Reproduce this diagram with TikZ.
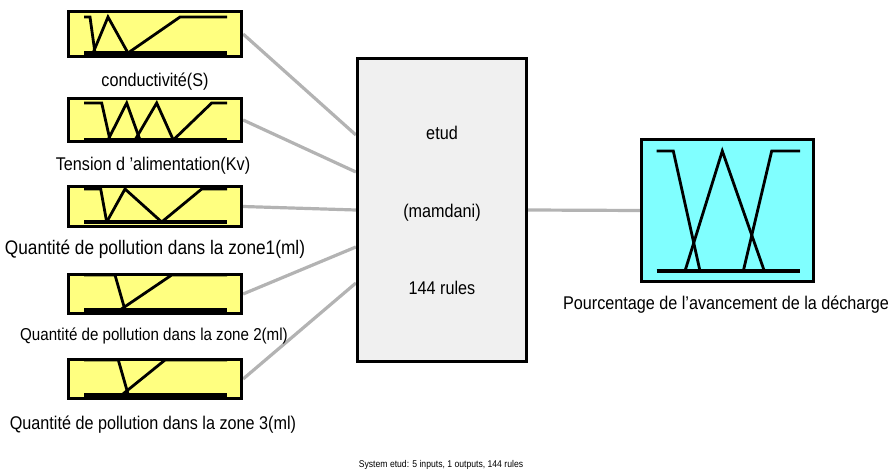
\documentclass[tikz,border=0pt]{standalone}
\usepackage{fontspec}
\setmainfont{Liberation Sans}[FakeStretch=0.88]
\usetikzlibrary{backgrounds}

\definecolor{inpfill}{HTML}{FFFF80}
\definecolor{outfill}{HTML}{80FFFF}
\definecolor{sysfill}{HTML}{F0F0F0}
\definecolor{linkgray}{HTML}{B3B3B3}

\begin{document}
\begin{tikzpicture}[x=1pt,y=-1pt,
  varbox/.style={draw=black, line width=3.2pt, inner sep=0pt},
  inbox/.style={varbox, fill=inpfill, minimum width=173pt},
  outbox/.style={varbox, fill=outfill, minimum width=172pt, minimum height=142pt},
  sysbox/.style={varbox, fill=sysfill, minimum width=169pt, minimum height=303pt},
  mf/.style={draw=black, line width=2.8pt},
  axisline/.style={draw=black, line width=3.6pt},
  link/.style={draw=linkgray, line width=3.2pt},
  lab/.style={inner sep=0pt, anchor=base, font=\fontsize{18.4}{22}\selectfont},
  small/.style={inner sep=0pt, anchor=base, font=\fontsize{9.8}{12}\selectfont}
]
\useasboundingbox (0,0) rectangle (889,470);

% input variable boxes
\node[inbox, minimum height=45pt] (in1) at (155,34) {};
\node[inbox, minimum height=43pt] (in2) at (155,120) {};
\node[inbox, minimum height=40pt] (in3) at (155,206.5) {};
\node[inbox, minimum height=39pt] (in4) at (155,294) {};
\node[inbox, minimum height=39pt] (in5) at (155,379) {};

% rule system and output variable
\node[sysbox] (sys) at (442,210) {};
\node[outbox] (out1) at (727.5,210.5) {};

% membership functions: conductivité
\draw[axisline] (84,53) -- (227,53);
\draw[mf] (84,17) -- (90,17) -- (95,53);
\draw[mf] (93,53) -- (108,17) -- (128,53);
\draw[mf] (128,53) -- (180,17) -- (227,17);

% membership functions: tension
\draw[axisline] (84,140) -- (227,140);
\draw[mf] (84,103) -- (101.7,103) -- (110,140);
\draw[mf] (108,140) -- (126.7,103) -- (140,140);
\draw[mf] (135,140) -- (156.7,103) -- (173.3,140);
\draw[mf] (173.3,140) -- (211.7,103) -- (227,103);

% membership functions: zone 1
\draw[axisline] (84,222) -- (227,222);
\draw[mf] (84,189) -- (100.7,189) -- (106.7,222);
\draw[mf] (106.7,222) -- (125,189) -- (161.7,222);
\draw[mf] (161.7,222) -- (201.7,189) -- (227,189);

% membership functions: zone 2
\draw[axisline] (84,310) -- (227,310);
\draw[mf] (84,275) -- (115,275) -- (125,310);
\draw[mf] (120,310) -- (171.7,275) -- (227,275);

% membership functions: zone 3
\draw[axisline] (84,395) -- (227,395);
\draw[mf] (84,360) -- (118.3,360) -- (128.3,395);
\draw[mf] (121.7,395) -- (165,360) -- (227,360);

% membership functions: output
\draw[axisline] (656.7,271) -- (800,271);
\draw[mf] (656.7,151) -- (673.3,151) -- (700,271);
\draw[mf] (685,271) -- (722.3,151) -- (764.3,271);
\draw[mf] (743.3,271) -- (771.7,151) -- (800,151);

% connectors
\begin{scope}[on background layer]
\draw[link] (in1.east) -- ([yshift=75pt]sys.west);
\draw[link] (in2.east) -- ([yshift=38pt]sys.west);
\draw[link] (in3.east) -- (sys.west);
\draw[link] (in4.east) -- ([yshift=-37pt]sys.west);
\draw[link] (in5.east) -- ([yshift=-73pt]sys.west);
\draw[link] (sys.east) -- (out1.west);
\end{scope}

% labels
\node[lab] (l1) at (155,86.5) {conductivité(S)};
\node[lab] (l2) at (153,171) {Tension d ’alimentation(Kv)};
\node[lab, font=\fontsize{19.6}{23}\selectfont] (l3) at (155,255) {Quantité de pollution dans la zone1(ml)};
\node[lab, font=\fontsize{17.2}{21}\selectfont] (l4) at (154,341) {Quantité de pollution dans la zone 2(ml)};
\node[lab] (l5) at (153,429) {Quantité de pollution dans la zone 3(ml)};
\node[lab] (lo) at (726,310) {Pourcentage de l’avancement de la décharge};

\node[lab] (s1) at (442,140) {etud};
\node[lab] (s2) at (442,218) {(mamdani)};
\node[lab] (s3) at (442,295) {144 rules};

\node[small] (info) at (441,467) {System etud: 5 inputs, 1 outputs, 144 rules};
\end{tikzpicture}
\end{document}
